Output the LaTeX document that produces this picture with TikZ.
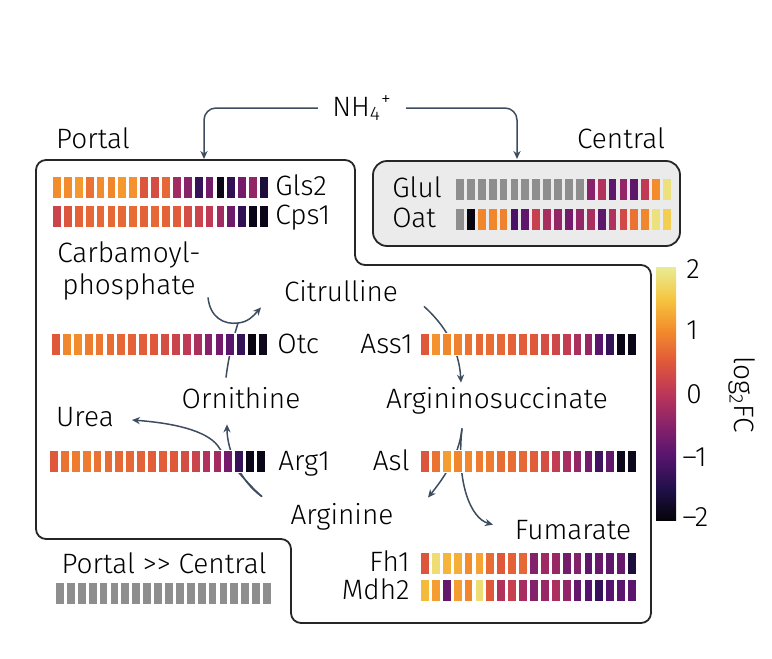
\documentclass[tikz,border=0pt]{standalone}
\usepackage{fontspec}
\setmainfont{Fira Sans Light}
\usetikzlibrary{arrows.meta}
\definecolor{inf0}{HTML}{05040A}
\definecolor{inf1}{HTML}{21104A}
\definecolor{inf2}{HTML}{55146D}
\definecolor{inf3}{HTML}{88226A}
\definecolor{inf4}{HTML}{BC3658}
\definecolor{inf5}{HTML}{E0583A}
\definecolor{inf6}{HTML}{F38C2C}
\definecolor{inf7}{HTML}{F5C640}
\definecolor{inf8}{HTML}{E8EC96}
\definecolor{arrowc}{HTML}{3D4D5F}
\definecolor{cellgray}{HTML}{8E8E8E}
\definecolor{centralfill}{HTML}{EBEBEB}
\pgfdeclareverticalshading{infernobar}{100bp}{color(0bp)=(inf0); color(25bp)=(inf0);
  color(31.25bp)=(inf1); color(37.5bp)=(inf2); color(43.75bp)=(inf3); color(50bp)=(inf4);
  color(56.25bp)=(inf5); color(62.5bp)=(inf6); color(68.75bp)=(inf7); color(75bp)=(inf8);
  color(100bp)=(inf8)}
\tikzset{
	every node/.style={font=\fontsize{14}{16}\selectfont, inner sep=1pt,
		text height=11pt, text depth=3pt},
	flow/.style={draw=arrowc, line width=0.75pt, -{Stealth[length=4pt,width=3.6pt]}},
	link/.style={draw=arrowc, line width=0.75pt},
	zone/.style={draw=black!85, line width=0.9pt, rounded corners=5pt}
}
% one row of 20 cells: [background]{left}{top}{values 0..8, -1 = gray}
\newcommand{\heatrow}[4][white]{%
	\fill[#1] (#2-2,#3-1) rectangle ++(219,23);
	\foreach \val [count=\col from 0] in {#4}{%
		\ifdim\val pt<0pt \colorlet{cellc}{cellgray}\else
		\pgfmathtruncatemacro{\lo}{min(floor(\val),7)}%
		\pgfmathtruncatemacro{\up}{\lo+1}%
		\pgfmathtruncatemacro{\pct}{round((\val-\lo)*100)}%
		\colorlet{cellc}{inf\up!\pct!inf\lo}\fi
		\fill[cellc] (#2+\col*10.9,#3) rectangle ++(7.8,21);
	}%
}

\begin{document}
\begin{tikzpicture}[x=0.5pt, y=-0.5pt]
	\useasboundingbox (0,0) rectangle (772,659);

	% Zones
	\draw[zone] (36,350) -- (36,160) -- (355,160) -- (355,265) -- (651,265)
		-- (651,623) -- (291,623) -- (291,539) -- (36,539) -- cycle;
	\draw[zone, fill=centralfill, rounded corners=7pt] (373,161) rectangle (680,246);

	\node (portal) at (93,140) {Portal};
	\node (central) at (621,140) {Central};
	\node[inner sep=7pt] (nh) at (362,108) {NH\textsubscript{4}\textsuperscript{+}};
	\coordinate (portalin) at (204,159);
	\coordinate (centralin) at (517,159);

	% Metabolites
	\node[align=center] (carb) at (129,286) {Carbamoyl-\\phosphate};
	\node (cit) at (341,293) {Citrulline};
	\node (orn) at (241,400) {Ornithine};
	\node (asuc) at (497,400) {Argininosuccinate};
	\node (urea) at (85,418) {Urea};
	\node (arg) at (342,516) {Arginine};
	\node (fum) at (573,531) {Fumarate};

	% Genes
	\node[anchor=west] (gls) at (273,187) {Gls2};
	\node[anchor=west] (cps) at (273,216) {Cps1};
	\node[anchor=west] (glul) at (390,189) {Glul};
	\node[anchor=west] (oat) at (390,219) {Oat};
	\node[anchor=west] (otc) at (275,345) {Otc};
	\node[anchor=east] (ass) at (415,345) {Ass1};
	\node[anchor=west] (argone) at (276,462) {Arg1};
	\node[anchor=east] (asl) at (412,462) {Asl};
	\node[anchor=east] (fh) at (412,563) {Fh1};
	\node[anchor=east] (mdh) at (412,591) {Mdh2};
	\node (pvc) at (164,565) {Portal >{}> Central};

	% Arrows
	\draw[flow, rounded corners=6pt] (nh.west) -| (portalin);
	\draw[flow, rounded corners=6pt] (nh.east) -| (centralin);
	\coordinate (jn) at (238,323);
	\draw[flow] ([shift={(79,-5)}]carb.south) .. controls +(2,20) and +(-14,2) .. (jn)
		.. controls +(10,-1) and +(-8,9) .. ([shift={(-80,-2)}]cit.south);
	\draw[link] ([shift={(-15,-6)}]orn.north) .. controls +(3,-25) and +(-3,10) .. (jn);
	\draw[flow] ([shift={(83,-3)}]cit.south) .. controls +(20,18) and +(-2,-35) .. ([shift={(-36,-1)}]asuc.north);
	\draw[flow] ([shift={(-35,12)}]asuc.south) .. controls +(-3,30) and +(12,-15) .. ([shift={(86,-2)}]arg.north);
	\draw[flow] ([shift={(-35,12)}]asuc.south) .. controls +(-6,55) and +(-22,-6) .. ([shift={(-80,10)}]fum.north);
	\draw[flow] ([shift={(-80,-3)}]arg.north) .. controls +(-22,-15) and +(0,25) .. ([shift={(-14,8)}]orn.south);
	\draw[flow] ([shift={(-80,-3)}]arg.north) .. controls +(-14,-12) and +(6,10) .. (218,446)
		.. controls +(-12,-16) and +(40,3) .. ([shift={(47,2)}]urea.center);

	% Heat map rows
	\heatrow{53}{177}{6.0,6.0,6.2,5.5,6.0,5.9,6.2,6.1,4.9,4.7,5.3,3.5,3.0,1.4,2.6,0.2,1.3,2.6,3.2,0.8}
	\heatrow{53}{206}{4.4,4.9,5.2,5.3,5.3,5.3,5.3,5.4,5.2,5.3,5.2,5.1,4.7,4.4,4.1,3.5,2.5,1.3,0.2,0.2}
	\heatrow[centralfill]{456}{179}{-1,-1,-1,-1,-1,-1,-1,-1,-1,-1,-1,-1,3.0,3.8,2.2,3.2,2.2,4.1,6.0,7.7}
	\heatrow[centralfill]{456}{209}{-1,0.1,5.9,5.9,5.8,1.8,2.2,4.3,3.6,3.2,2.6,3.2,3.6,2.2,3.8,4.6,5.5,5.9,7.7,7.2}
	\heatrow{52}{334}{5.0,5.9,6.0,5.7,5.6,5.4,5.3,5.2,5.1,5.0,4.7,4.4,4.1,3.7,3.0,2.6,2.1,1.4,0.1,0.3}
	\heatrow{421}{334}{5.0,6.1,5.9,5.8,5.5,5.3,5.4,5.3,5.2,5.1,5.0,4.7,4.5,4.2,3.7,3.3,2.1,1.4,0.2,0.2}
	\heatrow{50}{451}{5.0,5.5,5.7,5.7,5.5,5.4,5.3,5.3,5.2,5.1,5.1,5.0,4.7,4.4,3.8,3.5,2.6,1.4,0.2,0.2}
	\heatrow{421}{451}{4.9,5.5,6.3,5.9,5.9,5.7,5.7,5.4,5.4,5.3,5.1,4.7,4.2,3.6,3.2,2.6,1.6,2.3,0.3,0.3}
	\heatrow{421}{553}{4.9,7.6,6.7,6.6,6.0,6.4,5.4,5.0,5.2,5.3,2.9,3.4,3.3,2.6,2.9,2.2,2.4,2.2,2.4,0.8}
	\heatrow{421}{580}{6.8,6.3,2.3,6.3,5.9,7.6,5.0,3.8,4.3,3.6,2.9,3.3,3.7,3.2,2.3,2.0,1.4,2.0,2.1,2.1}
	\heatrow{56}{583}{-1,-1,-1,-1,-1,-1,-1,-1,-1,-1,-1,-1,-1,-1,-1,-1,-1,-1,-1,-1}

	% Colour bar
	\shade[shading=infernobar] (656,267) rectangle (676,520);
	\node[anchor=west] (tktwo) at (684,270) {2};
	\node[anchor=west] (tkone) at (684,331) {1};
	\node[anchor=west] (tkzero) at (684,395) {0};
	\node[anchor=west] (tkmone) at (680,458) {–1};
	\node[anchor=west] (tkmtwo) at (680,518) {–2};
	\node[rotate=-90] (cblab) at (742,395) {log\textsubscript{2}FC};
\end{tikzpicture}
\end{document}
